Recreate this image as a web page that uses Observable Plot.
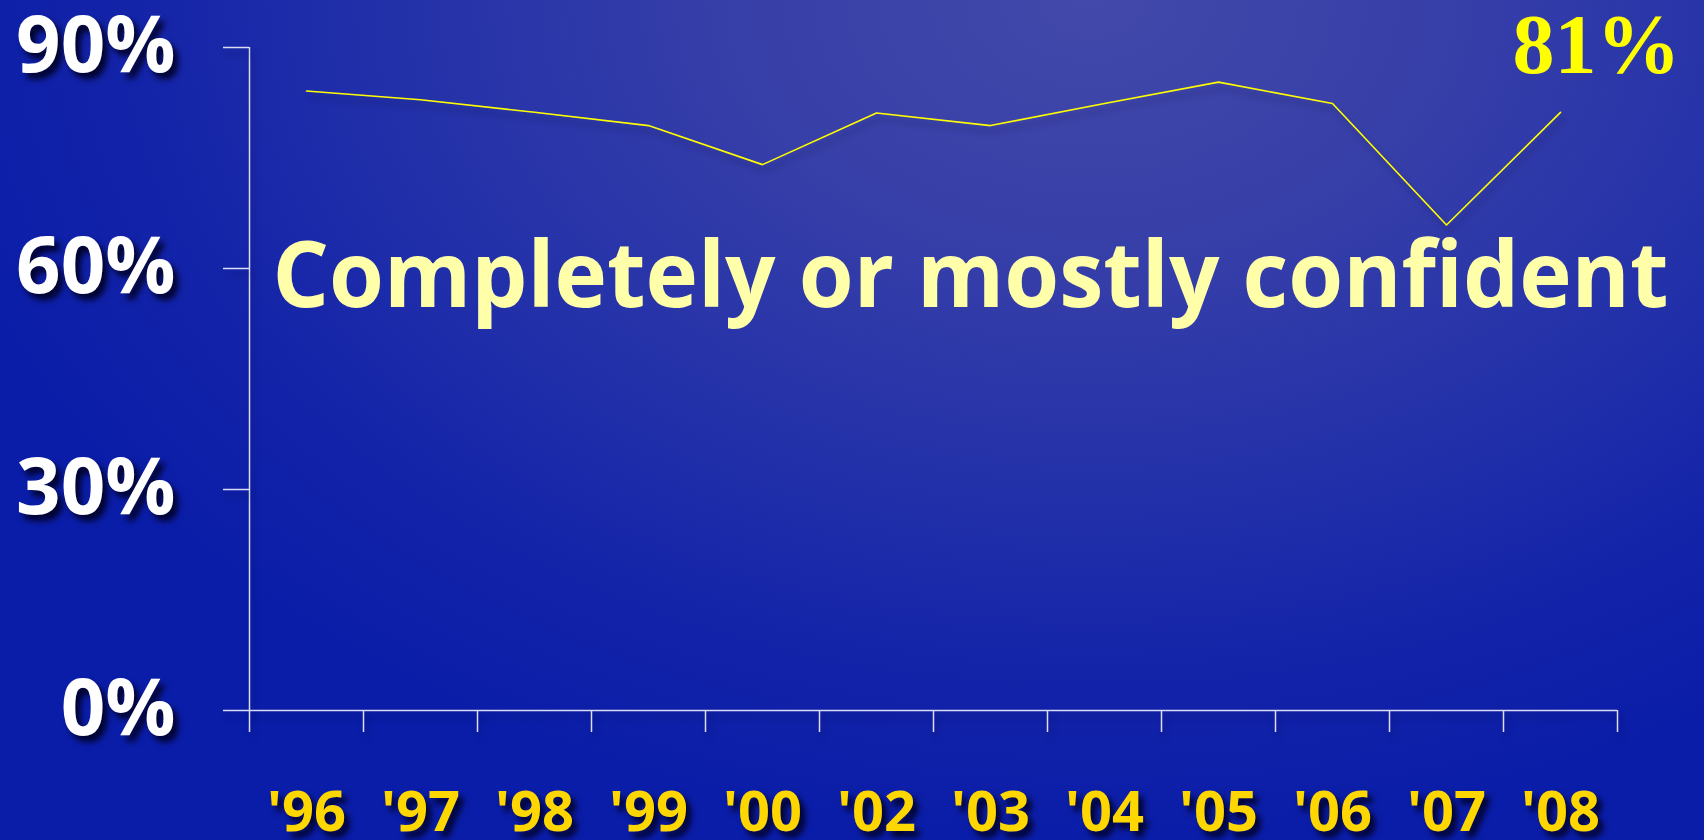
<!DOCTYPE html>
<html><head><meta charset="utf-8">
<script src="https://cdn.jsdelivr.net/npm/d3@7"></script>
<script src="https://cdn.jsdelivr.net/npm/@observablehq/plot@0.6"></script>
<style>
html,body{margin:0;padding:0;width:1704px;height:840px;overflow:hidden;}
body{background: radial-gradient(ellipse 70% 100% at 64% 0%, #4249aa 0%, #373fa8 30%, #2331a9 58%, #1424a9 80%, #0a1da8 100%);}
</style></head><body><div id="chart"></div>
<script>
const years = ["'96","'97","'98","'99","'00","'02","'03","'04","'05","'06","'07","'08"];
const confident = [84.1, 82.9, 81.2, 79.4, 74.1, 81.1, 79.4, 82.4, 85.3, 82.4, 65.9, 81.2];
const yTicks = [0, 30, 60, 90];
const headline = "Completely or mostly confident";
const lastLabel = "81%";

const data = years.map((year, i) => ({i, year, value: confident[i]}));
const edges = d3.range(-0.5, years.length, 1);
const idx = d3.range(years.length);
const axisColor = "#dcdcf4";
const font = "'Open Sans', 'DejaVu Sans', sans-serif";

const chart = Plot.plot({
  width: 1704,
  height: 840,
  marginLeft: 249,
  marginRight: 87,
  marginTop: 47,
  marginBottom: 130,
  style: {background: "transparent", overflow: "visible", fontFamily: font},
  x: {type: "linear", domain: [-0.5, years.length - 0.5], label: null},
  y: {domain: [0, 90], label: null},
  marks: [
    Plot.ruleX([-0.5], {stroke: axisColor, strokeWidth: 1.5}),
    Plot.ruleY([0], {stroke: axisColor, strokeWidth: 1.5}),
    Plot.axisY(yTicks, {tickSize: 26, tickPadding: 48, tickFormat: d => d + "%", fontSize: 78, fontWeight: 700, fill: "white", stroke: axisColor, strokeWidth: 1.5}),
    Plot.axisX(edges, {tickSize: 22, tickFormat: () => "", stroke: axisColor, strokeWidth: 1.5}),
    Plot.axisX(idx, {tickSize: 0, tickPadding: 81, tickFormat: i => years[i], fontSize: 56, fontWeight: 700, fill: "#ffd700"}),
    Plot.line(data, {x: "i", y: "value", stroke: "#ffff00", strokeWidth: 1.6}),
    Plot.text([headline], {frameAnchor: "top-left", dx: 23, dy: 230, text: d => d, fontSize: 92, fontWeight: 700, fill: "#ffffaa", textAnchor: "start", lineAnchor: "middle"}),
    Plot.text([data[data.length - 1]], {x: "i", y: "value", text: () => lastLabel, dx: 36, dy: -66, fontFamily: "'Liberation Serif', 'Times New Roman', serif", fontWeight: 700, fontSize: 84, fill: "#ffff00", lineAnchor: "middle"})
  ]
});
document.getElementById("chart").appendChild(chart);

const svg = d3.select(chart);
svg.selectAll('g[aria-label="y-axis tick label"] text, g[aria-label="x-axis tick label"] text')
  .style("filter", "drop-shadow(5px 6px 3px rgba(0,0,35,0.95))");
svg.selectAll('g[aria-label="line"], g[aria-label="rule"], g[aria-label="y-axis tick"], g[aria-label="x-axis tick"]')
  .style("filter", "drop-shadow(3px 6px 3px rgba(0,0,40,0.35))");
svg.selectAll('g[aria-label="text"] text').filter(function() { return this.textContent === headline; })
  .attr("textLength", 1396).attr("lengthAdjust", "spacingAndGlyphs");
</script></body></html>
